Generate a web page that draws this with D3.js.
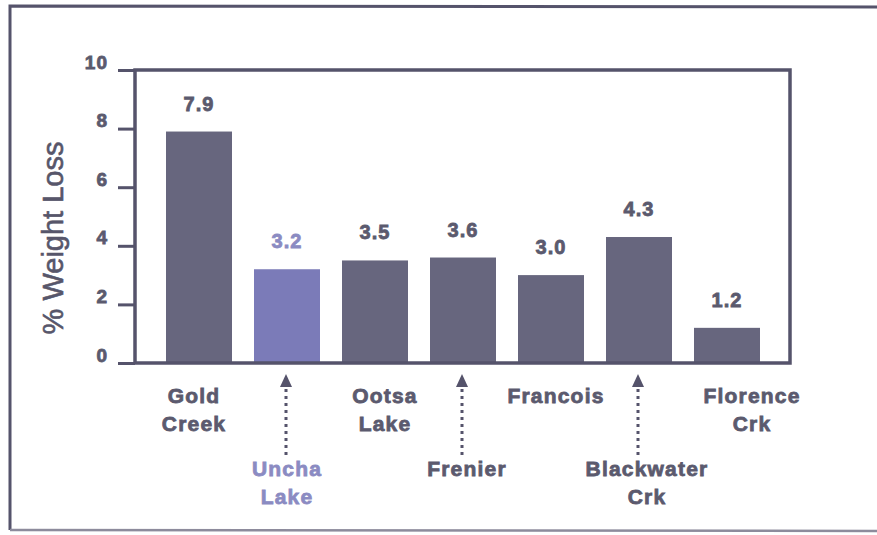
<!DOCTYPE html>
<html>
<head>
    <title>Weight loss by site</title>
    <meta charset="utf-8">
    <script src="https://cdn.jsdelivr.net/npm/d3@7"></script>
    <style>
        body {
            margin: 0;
            background: #fff;
        }

        svg {
            display: block;
        }

        .bar {
            fill: #67667e;
        }

        .bar.highlight {
            fill: #7b7bb8;
        }

        .value, .site, .tick text {
            font-family: "Liberation Sans", Arial, sans-serif;
            font-weight: bold;
            fill: #5b5a6e;
            stroke: #5b5a6e;
            stroke-width: 0.8px;
        }

        .highlight-text {
            fill: #8b8bc2 !important;
            stroke: #8b8bc2 !important;
        }
    </style>
</head>
<body>
<svg id="chart" width="877" height="535"></svg>
<script type="text/javascript">

var sites = ['Gold Creek', 'Uncha Lake', 'Ootsa Lake', 'Frenier', 'Francois', 'Blackwater Crk', 'Florence Crk'],
    siteLines = [['Gold', 'Creek'], ['Uncha', 'Lake'], ['Ootsa', 'Lake'], ['Frenier'], ['Francois'], ['Blackwater', 'Crk'], ['Florence', 'Crk']],
    weightLoss = [7.9, 3.2, 3.5, 3.6, 3.0, 4.3, 1.2],
    yTicks = [0, 2, 4, 6, 8, 10],
    // sites marked with an arrow and dropped to the lower label row
    arrowed = ['Uncha Lake', 'Frenier', 'Blackwater Crk'],
    highlighted = 'Uncha Lake';

// small horizontal nudges for the site names
var labelShift = [-5, 0, 10, 4, 5, 8, 25];

var plot = {left: 135, right: 790, top: 70, bottom: 363},
    ink = '#55536b';

var svg = d3.select('#chart');

var x = d3.scaleBand()
    .domain(sites)
    .range([144, 782])
    .paddingInner(0.25)
    .paddingOuter(0.25);

var y = d3.scaleLinear()
    .domain([0, 10])
    .range([plot.bottom, plot.top]);

// outer frame
svg.append('path')
    .attr('d', 'M877,7 L10,6 L10,530')
    .attr('fill', 'none')
    .attr('stroke', ink)
    .attr('stroke-width', 3);

svg.append('line')
    .attr('x1', 10).attr('x2', 877)
    .attr('y1', 530).attr('y2', 531)
    .attr('stroke', '#8d8b9c')
    .attr('stroke-width', 2.5);

// bars
svg.selectAll('rect.bar')
    .data(sites)
    .enter()
    .append('rect')
    .attr('class', function (d) {
        return d === highlighted ? 'bar highlight' : 'bar';
    })
    .attr('x', function (d) {
        return x(d);
    })
    .attr('width', x.bandwidth())
    .attr('y', function (d, i) {
        return y(weightLoss[i]);
    })
    .attr('height', function (d, i) {
        return y(0) - y(weightLoss[i]);
    });

// value labels over the bars
svg.selectAll('text.value')
    .data(sites)
    .enter()
    .append('text')
    .attr('class', function (d) {
        return d === highlighted ? 'value highlight-text' : 'value';
    })
    .attr('x', function (d) {
        return x(d) + x.bandwidth() / 2;
    })
    .attr('y', function (d, i) {
        return y(weightLoss[i]) - 21;
    })
    .attr('text-anchor', 'middle')
    .style('font-size', '20px')
    .style('letter-spacing', '1px')
    .text(function (d, i) {
        return weightLoss[i].toFixed(1);
    });

// y axis with ticks sticking out to the left
var yAxis = svg.append('g')
    .attr('transform', 'translate(' + plot.left + ',0)')
    .call(d3.axisLeft(y)
        .tickValues(yTicks)
        .tickSize(17)
        .tickPadding(10)
        .tickFormat(d3.format('d')));

yAxis.select('.domain').remove();
yAxis.selectAll('.tick line')
    .attr('stroke', ink)
    .attr('stroke-width', 3);
yAxis.selectAll('.tick text')
    .attr('dy', '-0.1em')
    .style('font-size', '19px')
    .style('letter-spacing', '1px');

// plot box
svg.append('rect')
    .attr('x', plot.left)
    .attr('y', plot.top)
    .attr('width', plot.right - plot.left)
    .attr('height', plot.bottom - plot.top)
    .attr('fill', 'none')
    .attr('stroke', ink)
    .attr('stroke-width', 3.5);

// axis title
svg.append('text')
    .attr('transform', 'translate(63,238) rotate(-90)')
    .attr('text-anchor', 'middle')
    .style('font-family', '"Liberation Sans", Arial, sans-serif')
    .style('font-size', '29px')
    .style('fill', '#57566a')
    .style('stroke', '#57566a')
    .style('stroke-width', '0.6px')
    .text('% Weight Loss');

// site names, two rows
var names = svg.selectAll('text.site')
    .data(sites)
    .enter()
    .append('text')
    .attr('class', function (d) {
        return d === highlighted ? 'site highlight-text' : 'site';
    })
    .attr('text-anchor', 'middle')
    .style('font-size', '21px')
    .style('letter-spacing', '1.2px')
    .attr('y', function (d) {
        return arrowed.indexOf(d) >= 0 ? 476 : 403;
    });

names.selectAll('tspan')
    .data(function (d, i) {
        return siteLines[i].map(function (line) {
            return {line: line, cx: x(d) + x.bandwidth() / 2 + labelShift[i]};
        });
    })
    .enter()
    .append('tspan')
    .attr('x', function (d) {
        return d.cx;
    })
    .attr('dy', function (d, j) {
        return j === 0 ? 0 : 28;
    })
    .text(function (d) {
        return d.line;
    });

// dotted arrows pointing up to the marked sites
var arrows = svg.selectAll('g.arrow')
    .data(arrowed)
    .enter()
    .append('g')
    .attr('class', 'arrow')
    .attr('transform', function (d) {
        return 'translate(' + (x(d) + x.bandwidth() / 2 - 1) + ',0)';
    });

arrows.append('path')
    .attr('d', 'M0,374 L6,387 L-6,387 Z')
    .attr('fill', ink);

arrows.append('line')
    .attr('x1', 0).attr('x2', 0)
    .attr('y1', 389).attr('y2', 456)
    .attr('stroke', ink)
    .attr('stroke-width', 3)
    .attr('stroke-dasharray', '3,4');

</script>
</body>
</html>
